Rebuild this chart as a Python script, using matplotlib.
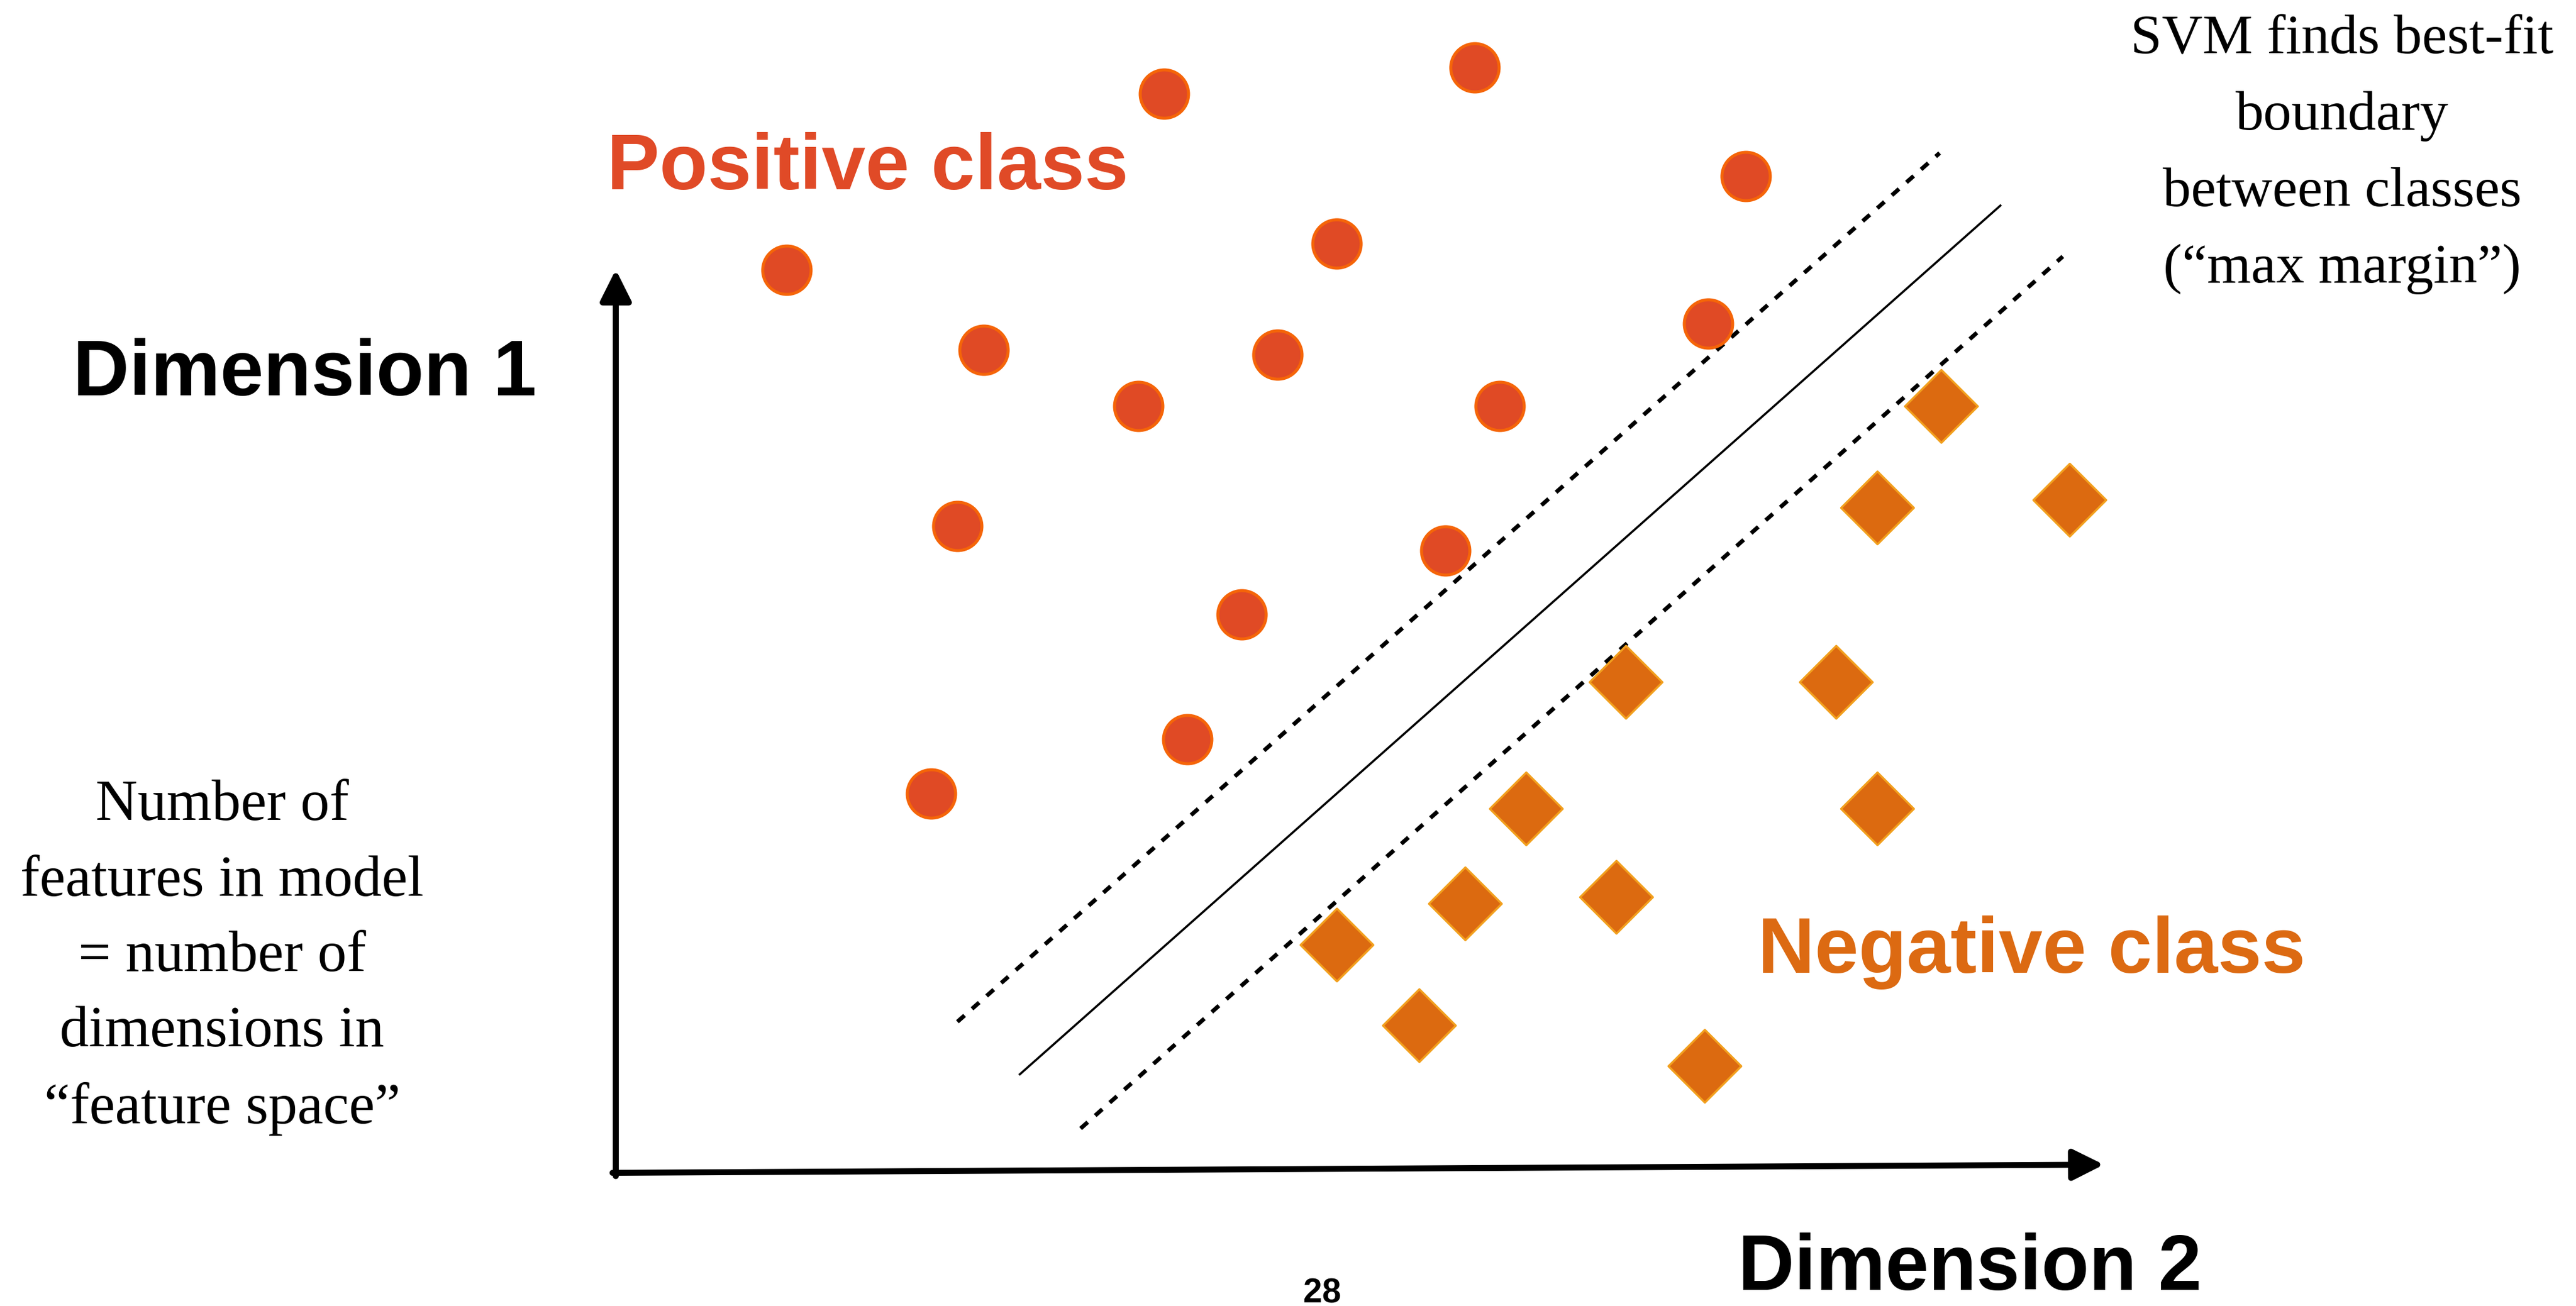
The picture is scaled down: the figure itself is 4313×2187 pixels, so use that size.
"""SVM max-margin sketch: two classes in a 2-D feature space."""
import matplotlib.pyplot as plt
from matplotlib.path import Path

W, H = 4313, 2187

# positive class (circles), feature-space coordinates
pos_x = [3.34, 5.23, 6.88, 1.04, 4.39, 2.24, 4.03, 3.18, 5.38, 6.65, 2.08, 5.05, 3.81, 3.48, 1.92]
pos_y = [6.57, 6.73, 6.07, 5.50, 5.66, 5.01, 4.98, 4.67, 4.67, 5.17, 3.94, 3.79, 3.40, 2.64, 2.31]

# negative class (diamonds)
neg_x = [8.07, 7.68, 8.85, 6.15, 7.43, 5.54, 7.68, 5.17, 6.09, 4.39, 4.89, 6.63]
neg_y = [4.67, 4.05, 4.10, 2.99, 2.99, 2.22, 2.22, 1.64, 1.68, 1.39, 0.90, 0.65]

# decision boundary and the two margin lines
boundary_x = [2.46, 8.43]
boundary_y = [0.60, 5.89]
margin_up_x = [2.08, 8.06]
margin_up_y = [0.92, 6.21]
margin_lo_x = [2.83, 8.81]
margin_lo_y = [0.27, 5.58]

# ends of the two drawn axes
x_axis_tip = (9.06, 0.05)
y_axis_tip = (0.0, 5.50)

pos_fill, pos_edge = '#E04A25', '#F56508'
neg_fill, neg_edge = '#DC6A10', '#F2A01E'

sans = ['Liberation Sans', 'DejaVu Sans']
serif = ['Liberation Serif', 'DejaVu Serif']

fig = plt.figure(figsize=(W / 100, H / 100), dpi=100)
fig.patch.set_facecolor('white')
ax = fig.add_axes([1031 / W, 1 - 1964 / H, 2750 / W, 1925 / H])
ax.set_xlim(0, 10)
ax.set_ylim(0, 7)
ax.axis('off')

arrow = dict(arrowstyle='-|>,head_length=0.4,head_width=0.2', lw=7.2, color='black',
             mutation_scale=79, shrinkA=0, shrinkB=0)
ax.annotate('', xy=x_axis_tip, xytext=(-0.02, 0), arrowprops=arrow, annotation_clip=False)
ax.annotate('', xy=y_axis_tip, xytext=(0, -0.02), arrowprops=arrow, annotation_clip=False)

dashes = (0, (2.3, 2.4))
ax.plot(margin_up_x, margin_up_y, color='black', lw=5, linestyle=dashes)
ax.plot(boundary_x, boundary_y, color='black', lw=2.6)
ax.plot(margin_lo_x, margin_lo_y, color='black', lw=5, linestyle=dashes)

diamond = Path([(0, 1), (1, 0), (0, -1), (-1, 0), (0, 1)],
               [Path.MOVETO, Path.LINETO, Path.LINETO, Path.LINETO, Path.CLOSEPOLY])
ax.scatter(pos_x, pos_y, s=3400, marker='o', facecolor=pos_fill, edgecolor=pos_edge,
           linewidth=3.6, clip_on=False, zorder=3)
ax.scatter(neg_x, neg_y, s=7700, marker=diamond, facecolor=neg_fill, edgecolor=neg_edge,
           linewidth=2.5, clip_on=False, zorder=3)

def fx(px):
    return px / W

def fy(py):
    return 1 - py / H

fig.text(fx(1016), fy(317), 'Positive class', color='#E04A27', fontsize=95,
         fontweight='bold', family=sans, ha='left', va='baseline')
fig.text(fx(2943), fy(1629), 'Negative class', color='#DC6A12', fontsize=95,
         fontweight='bold', family=sans, ha='left', va='baseline')
fig.text(fx(122), fy(662), 'Dimension 1', color='black', fontsize=94,
         fontweight='bold', family=sans, ha='left', va='baseline')
fig.text(fx(2910), fy(2160), 'Dimension 2', color='black', fontsize=94,
         fontweight='bold', family=sans, ha='left', va='baseline')
fig.text(fx(2214), fy(2182), '28', color='black', fontsize=41,
         fontweight='bold', family=sans, ha='center', va='baseline')

# multi-line blocks: anchored on the baseline of their last line
fig.text(fx(3921), fy(473), 'SVM finds best-fit\nboundary\nbetween classes\n(\u201cmax margin\u201d)',
         color='black', fontsize=68, family=serif, ha='center', va='baseline',
         multialignment='center', linespacing=1.66)
fig.text(fx(372), fy(1881), 'Number of\nfeatures in model\n= number of\ndimensions in\n\u201cfeature space\u201d',
         color='black', fontsize=70, family=serif, ha='center', va='baseline',
         multialignment='center', linespacing=1.56)

fig.savefig('out.png', dpi=100)
plt.close(fig)
print('out.png saved')
